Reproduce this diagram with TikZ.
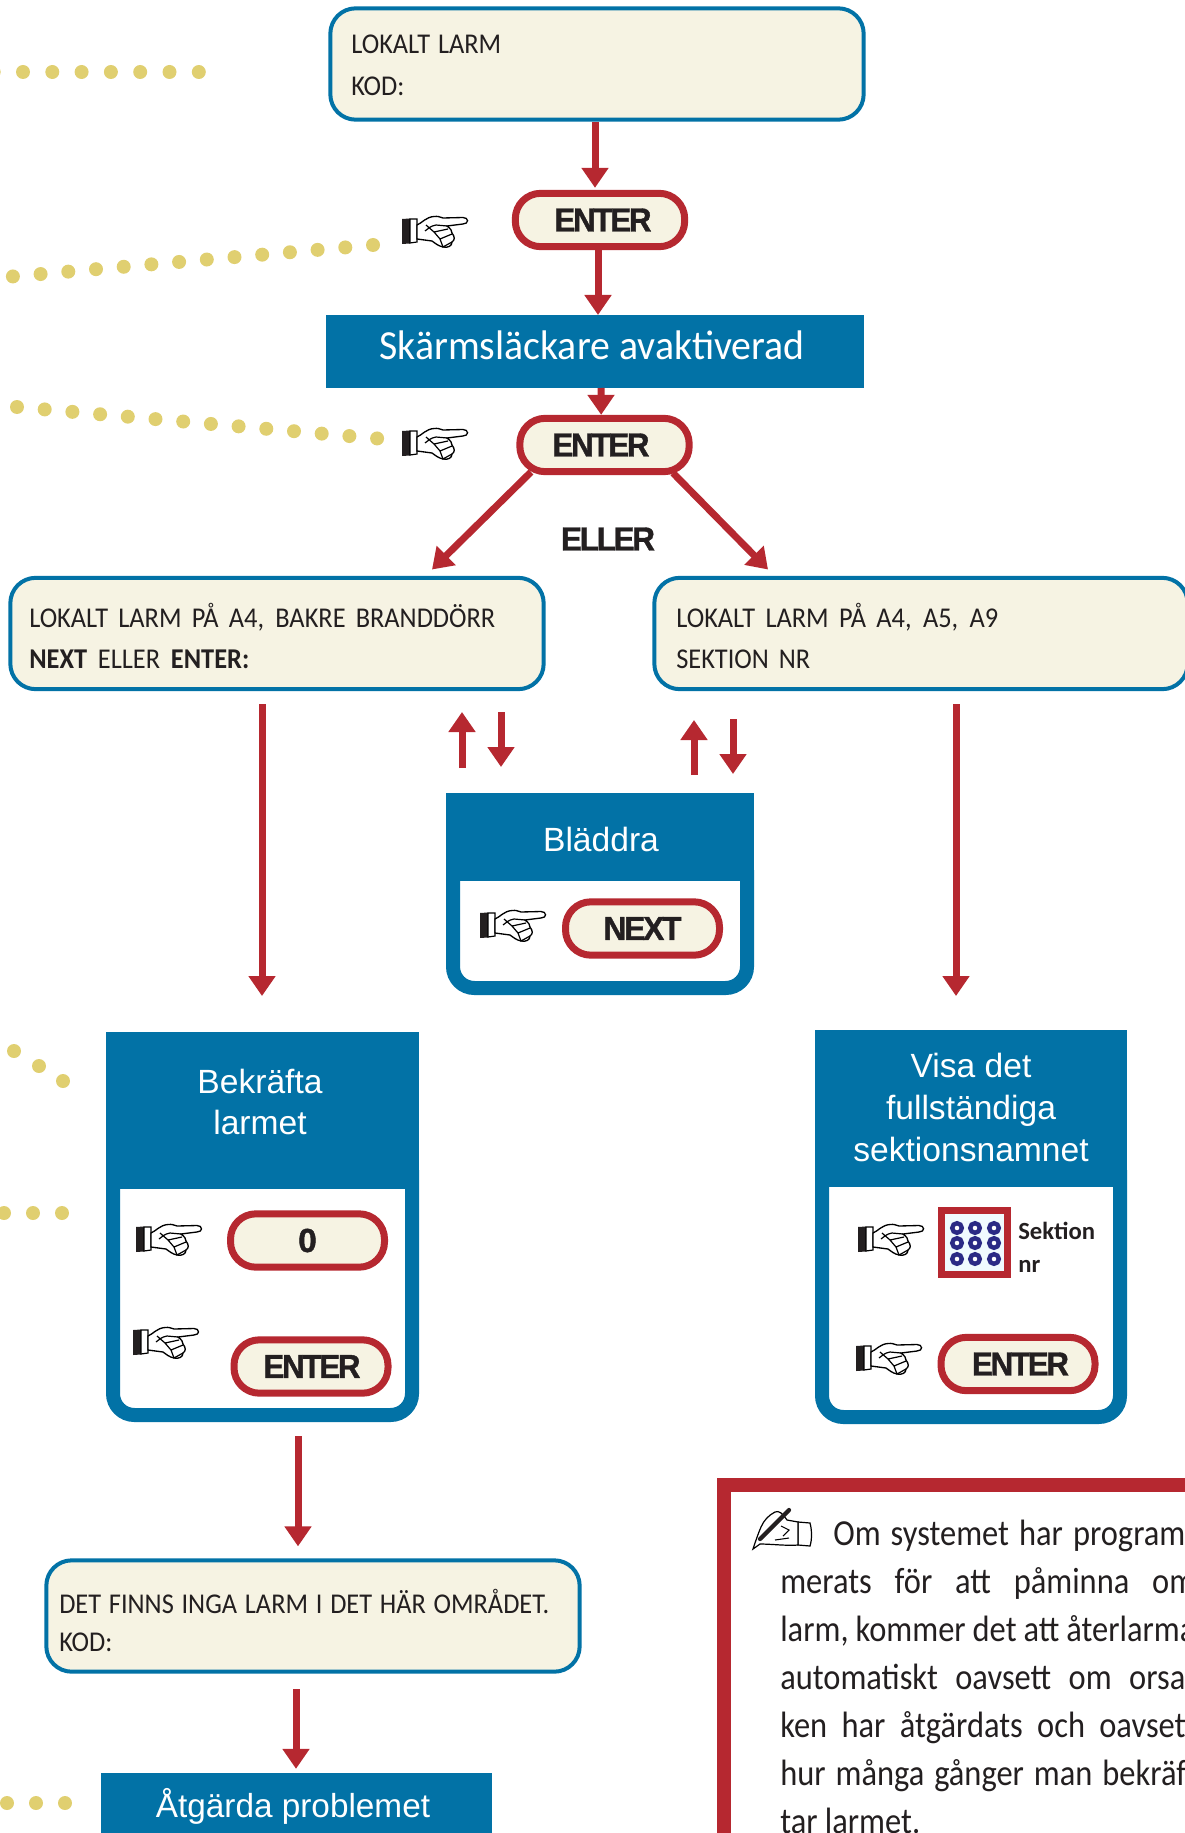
\documentclass[tikz,border=0pt]{standalone}
\usepackage{fontspec}
\usepackage{xcolor}
\usetikzlibrary{arrows.meta}

\setmainfont{Carlito}
\newfontfamily\lcdfont[FakeStretch=0.92]{Carlito}
\newfontfamily\notfont[FakeStretch=0.885]{Carlito}
\newfontfamily\rubrikfont{Liberation Sans}
\newfontfamily\knappfont[LetterSpace=-7,BoldFeatures={FakeBold=1.2}]{Liberation Sans}

\definecolor{larmbla}{HTML}{0272A6}
\definecolor{larmrod}{HTML}{B62830}
\definecolor{larmgul}{HTML}{E0CF70}
\definecolor{larmkram}{HTML}{F6F3E3}
\definecolor{larmtext}{HTML}{231F20}
\definecolor{larmnavy}{HTML}{2B2A85}

\newdimen\px
\px=0.75pt
\newcommand{\rad}[2]{\makebox[#1\px][s]{#2}}

\tikzset{
  x=0.75pt, y=-0.75pt,
  lcd/.style={draw=larmbla, fill=larmkram, line width=4\px, rounded corners=19pt,
    minimum width=400pt, minimum height=83.5pt},
  lcdtext/.style={anchor=base west, inner sep=0pt, text=larmtext, font=\lcdfont\fontsize{21.5}{24}\selectfont},
  pill/.style={draw=larmrod, fill=larmkram, line width=7\px, rounded corners=19pt,
    minimum width=#1, minimum height=40pt, inner sep=0pt, text=larmtext,
    font=\knappfont\bfseries\fontsize{25}{28}\selectfont},
  pil/.style={draw=larmrod, line width=5.25pt, -{Triangle[length=15pt,width=19.5pt]}},
  huvud/.style={fill=larmbla, inner sep=0pt, outer sep=0pt},
  rubrik/.style={anchor=base, inner sep=0pt, text=white, font=\rubrikfont\fontsize{25.2}{31}\selectfont},
  ram/.style={draw=larmbla, line width=14\px, rounded corners=16pt},
  prick/.style={fill=larmgul},
  hand/.pic={
    \fill[larmtext] (0,3) -- (8,2.5) -- (8,27.5) -- (0,28) -- cycle;
    \draw[line width=0.9pt, fill=white] (8,3) -- (15,3) -- (15,26) -- (8,27) -- cycle;
    \draw[line width=1pt, fill=white] (15,9) .. controls (20,7) and (24,1) .. (32,0.5)
      .. controls (36,0) and (38,1) .. (41,2) -- (61,1.5) .. controls (67,1.5) and (67,8) .. (61,8)
      -- (45,10) .. controls (49,13) and (50,15) .. (50,17) .. controls (53,21) and (53,24) .. (50,26)
      .. controls (50,30) and (46,32) .. (41,31) .. controls (36,30) and (33,27) .. (30,25)
      -- (15,23) -- cycle;
    \draw[line width=0.9pt] (45,10) -- (34,9) .. controls (28,10) and (26,13) .. (23,15)
      (24,9) -- (32,16) -- (46,13) (32,16) -- (38,23) -- (50,18) (38,23) -- (41,31) -- (50,26);
  },
  penna/.pic={
    \draw[line width=0.9pt, fill=white] (45,14) -- (57,15) .. controls (59,22) and (59,32) .. (57,38) -- (45,37) -- cycle;
    \draw[line width=0.9pt, fill=white] (45,14) -- (34,12) .. controls (30,6) and (26,2) .. (22,4)
      .. controls (16,7) and (11,12) .. (8,19) .. controls (5,26) and (3,32) .. (0,41)
      -- (7,36) .. controls (18,36) and (35,38) .. (45,37) -- cycle;
    \draw[line width=3.2pt, line cap=round, larmtext] (36,2) -- (7,31);
    \draw[line width=0.8pt] (22,32) -- (36,30) (28,18) -- (36,22) -- (30,28);
  },
}

\begin{document}
\begin{tikzpicture}
\useasboundingbox (0,0) rectangle (1184,1833);

% prickade linjer
\foreach \i in {-1,...,6} \fill[prick] ({23+29.3*\i},72) circle [radius=7];
\foreach \i in {0,...,13} \fill[prick] ({373-27.7*\i},{245+2.42*\i}) circle [radius=7];
\foreach \i in {0,...,13} \fill[prick] ({17+27.7*\i},{407+2.42*\i}) circle [radius=7];
\foreach \x/\y in {14/1051,39/1066,63/1081,4/1213,33/1213,62/1213,7/1803,36/1803,65/1803}
  \fill[prick] (\x,\y) circle [radius=7];

% displayer
\node[lcd] (topruta) at (597,64) {};
\node[lcd] (vruta) at (277,633.5) {};
\node[lcd] (hruta) at (921,633.5) {};
\node[lcd] (ingaruta) at (313,1616) {};

\node[lcdtext] (t1) at (351,54) {\rad{150}{LOKALT LARM}};
\node[lcdtext] (t2) at (351,96) {KOD:};
\node[lcdtext] (t3) at (29,627) {\rad{466}{LOKALT LARM PÅ A4, BAKRE BRANDDÖRR}};
\node[lcdtext] (t4) at (29,668) {\rad{220}{\textbf{NEXT} ELLER \textbf{ENTER:}}};
\node[lcdtext] (t5) at (676,627) {\rad{322}{LOKALT LARM PÅ A4, A5, A9}};
\node[lcdtext] (t6) at (676,668) {\rad{134}{SEKTION NR}};
\node[lcdtext] (t7) at (59,1613) {\rad{490}{DET FINNS INGA LARM I DET HÄR OMRÅDET.}};
\node[lcdtext] (t8) at (59,1651) {KOD:};

% knappar
\node[pill=127pt] (enter1) at (600,220) {\hspace*{6\px}\resizebox{97\px}{\height}{ENTER}};
\node[pill=127pt] (enter2) at (604.5,445) {\resizebox{97\px}{\height}{ENTER}\hspace*{7\px}};
\node[pill=115.5pt] (next) at (642.5,928.5) {\resizebox{78\px}{\height}{NEXT}};
\node[pill=115.5pt] (noll) at (307.5,1240.5) {0};
\node[pill=115.5pt] (enter3) at (311,1366.5) {\hspace*{2\px}\resizebox{97\px}{\height}{ENTER}};
\node[pill=115.5pt] (enter4) at (1018,1364) {\hspace*{5\px}\resizebox{97\px}{\height}{ENTER}};

% banderoller
\node[huvud, minimum width=403.5pt, minimum height=54.75pt] (banner) at (595,351.5) {};
\node[anchor=base, inner sep=0pt, text=white, font=\lcdfont\fontsize{31}{34}\selectfont] (bannertext) at (592,359)
  {\resizebox{425\px}{\height}{Skärmsläckare avaktiverad}};
\node[huvud, minimum width=293.25pt, minimum height=52pt] (atgarda) at (296,1807.5) {};
\node[rubrik, font=\rubrikfont\fontsize{25}{28}\selectfont] (atgardatext) at (293,1817) {Åtgärda problemet};

\node[anchor=center, inner sep=0pt, text=larmtext, font=\knappfont\bfseries\fontsize{25}{28}\selectfont] (eller) at (608,539)
  {\resizebox{94\px}{\height}{ELLER}};

% panel: bläddra
\draw[ram] (453,870) -- (453,988) -- (747,988) -- (747,870);
\node[huvud, minimum width=231pt, minimum height=66pt] (bladdra) at (600,837) {};
\node[rubrik] (bladdratext) at (601,851) {Bläddra};
\pic at (480,910) {hand};

% panel: bekräfta
\draw[ram] (113,1170) -- (113,1415) -- (412,1415) -- (412,1170);
\node[huvud, minimum width=234.75pt, minimum height=117.75pt] (bekrafta) at (262.5,1110.5) {};
\node[rubrik] (bekraftatext1) at (260,1093) {Bekräfta};
\node[rubrik] (bekraftatext2) at (260,1134) {larmet};
\pic at (136,1224) {hand};
\pic at (133,1327) {hand};

% panel: visa
\draw[ram] (822,1170) -- (822,1417) -- (1120,1417) -- (1120,1170);
\node[huvud, minimum width=234pt, minimum height=118pt] (visa) at (971,1108.5) {};
\node[rubrik] (visatext1) at (971,1077) {Visa det};
\node[rubrik] (visatext2) at (971,1119) {fullständiga};
\node[rubrik] (visatext3) at (971,1161) {sektionsnamnet};
\pic at (858,1224) {hand};
\pic at (856,1343) {hand};

% knappsats
\node[draw=larmrod, fill=cyan!6, line width=7\px, minimum width=49.5pt, minimum height=48pt, inner sep=0pt] (knappsats) at (974,1242.5) {};
\foreach \x in {957,975,994}
  \foreach \y in {1228,1243,1259}
    \draw[larmnavy, line width=3.3pt, fill=white] (\x,\y) circle [radius=4.8];
\node[anchor=base west, inner sep=0pt, text=larmtext, font=\bfseries\fontsize{18.5}{21}\selectfont] (sektion) at (1018,1239) {Sektion};
\node[anchor=base west, inner sep=0pt, text=larmtext, font=\bfseries\fontsize{18.5}{21}\selectfont] (nr) at (1018,1272) {nr};

% händer
\pic at (402,216) {hand};
\pic at (402,428) {hand};

% pilar
\draw[pil] ([xshift=-1.5pt]topruta.south) -- ([xshift=-3.75pt,yshift=1.5pt]enter1.north);
\draw[pil] ([xshift=-1.5pt]enter1.south) -- ([xshift=2.25pt]banner.north);
\draw[pil] ([xshift=4.5pt]banner.south) -- ([xshift=-2.5pt]enter2.north);
\draw[pil] (531,472) -- (432,569.5);
\draw[pil] (673,473) -- (768,569.5);
\coordinate (vstart) at (262,704);
\coordinate (hstart) at (956,704);
\draw[pil] (vstart) -- (vstart |- 0,996);
\draw[pil] (hstart) -- (hstart |- 0,996);
\coordinate (upp1) at (462,768);
\coordinate (ned1) at (501,712);
\coordinate (upp2) at (694,775);
\coordinate (ned2) at (733,719);
\draw[pil] (upp1) -- (462,712);
\draw[pil] (ned1) -- (501,767);
\draw[pil] (upp2) -- (694,720);
\draw[pil] (ned2) -- (733,774);
\coordinate (bstart) at (298,1436);
\coordinate (istart) at (296,1689);
\draw[pil] (bstart) -- ([yshift=9pt]ingaruta.north -| bstart);
\draw[pil] (istart) -- ([yshift=3pt]atgarda.north -| istart);

% anmärkning
\draw[draw=larmrod, line width=14\px] (1210,1485) -- (724,1485) -- (724,1850);
\pic at (753,1508) {penna};
\begin{scope}[every node/.style={anchor=base west, inner sep=0pt, text=larmtext, font=\notfont\fontsize{27.5}{30}\selectfont}]
\node (n1) at (833,1545) {\rad{362}{Om systemet har program-}};
\node (n2) at (780,1593) {\rad{415}{merats för att påminna om}};
\node (n3) at (780,1641) {\rad{415}{larm, kommer det att återlarma}};
\node (n4) at (780,1689) {\rad{415}{automatiskt oavsett om orsa-}};
\node (n5) at (780,1737) {\rad{415}{ken har åtgärdats och oavsett}};
\node (n6) at (780,1785) {\rad{415}{hur många gånger man bekräf-}};
\node (n7) at (780,1833) {tar larmet.};
\end{scope}
\end{tikzpicture}
\end{document}
